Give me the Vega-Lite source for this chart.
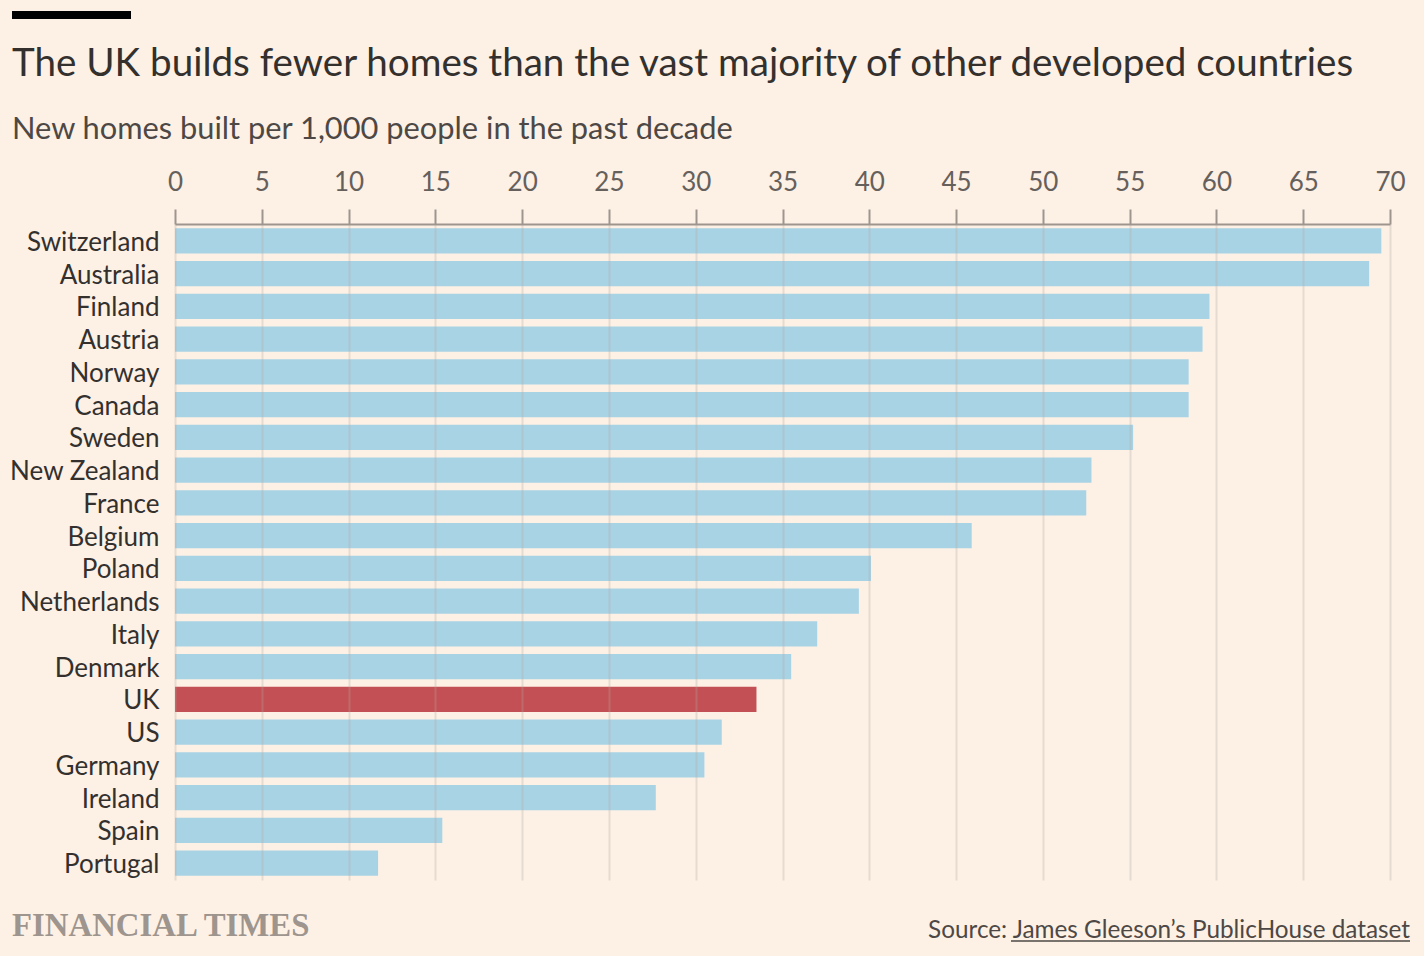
{
  "$schema": "https://vega.github.io/schema/vega-lite/v6.json",
  "width": 1215,
  "height": 656,
  "autosize": {"type": "none"},
  "padding": {"left": 175, "top": 224, "right": 34, "bottom": 76},
  "background": "#fdf1e6",
  "title": {
    "text": "The UK builds fewer homes than the vast majority of other developed countries",
    "subtitle": "New homes built per 1,000 people in the past decade",
    "anchor": "start",
    "frame": "group",
    "dx": -163,
    "offset": -135,
    "font": "Lato",
    "fontSize": 38.6,
    "fontWeight": "normal",
    "color": "#33302e",
    "subtitleFont": "Lato",
    "subtitleFontSize": 30.8,
    "subtitleColor": "#4d4845",
    "subtitlePadding": 31
  },
  "data": {
    "values": [
      {"country": "Switzerland", "homes": 69.5},
      {"country": "Australia", "homes": 68.8},
      {"country": "Finland", "homes": 59.6},
      {"country": "Austria", "homes": 59.2},
      {"country": "Norway", "homes": 58.4},
      {"country": "Canada", "homes": 58.4},
      {"country": "Sweden", "homes": 55.2},
      {"country": "New Zealand", "homes": 52.8},
      {"country": "France", "homes": 52.5},
      {"country": "Belgium", "homes": 45.9},
      {"country": "Poland", "homes": 40.1},
      {"country": "Netherlands", "homes": 39.4},
      {"country": "Italy", "homes": 37.0},
      {"country": "Denmark", "homes": 35.5},
      {"country": "UK", "homes": 33.5},
      {"country": "US", "homes": 31.5},
      {"country": "Germany", "homes": 30.5},
      {"country": "Ireland", "homes": 27.7},
      {"country": "Spain", "homes": 15.4},
      {"country": "Portugal", "homes": 11.7}
    ]
  },
  "layer": [
    {
      "mark": {"type": "bar"},
      "encoding": {
        "y": {
          "field": "country",
          "type": "nominal",
          "sort": null,
          "scale": {"paddingInner": 0.23, "paddingOuter": 0.13},
          "axis": {
            "title": null,
            "ticks": false,
            "domain": false,
            "labelFont": "Lato",
            "labelFontSize": 26,
            "labelColor": "#33302e",
            "labelPadding": 16,
            "labelOffset": 2
          }
        },
        "x": {
          "field": "homes",
          "type": "quantitative",
          "scale": {"domain": [0, 70], "nice": false},
          "axis": {
            "orient": "top",
            "title": null,
            "values": [0, 5, 10, 15, 20, 25, 30, 35, 40, 45, 50, 55, 60, 65, 70],
            "labelFont": "Lato",
            "labelFontSize": 26,
            "labelColor": "#66605c",
            "labelPadding": 14,
            "labelFlush": false,
            "labelOverlap": false,
            "tickSize": 15,
            "tickColor": "#9e958e",
            "tickWidth": 2,
            "domainColor": "#9e958e",
            "domainWidth": 2,
            "gridColor": "#b3a89e",
            "gridOpacity": 0.3,
            "gridWidth": 2,
            "zindex": 1
          }
        },
        "color": {
          "condition": {"test": "datum.country === 'UK'", "value": "#c35054"},
          "value": "#a8d3e4"
        }
      }
    },
    {
      "data": {"values": [{}]},
      "mark": {"type": "rule", "stroke": "#000000", "strokeWidth": 8},
      "encoding": {"x": {"value": -163}, "x2": {"value": -44}, "y": {"value": -209}}
    },
    {
      "data": {"values": [{}]},
      "mark": {"type": "text", "text": "FINANCIAL TIMES", "font": "Liberation Serif", "fontSize": 32.8, "fontWeight": "bold", "color": "#9e958e", "align": "left", "baseline": "alphabetic"},
      "encoding": {"x": {"value": -163}, "y": {"value": 712}}
    },
    {
      "data": {"values": [{}]},
      "mark": {"type": "text", "text": "Source: James Gleeson’s PublicHouse dataset", "font": "Lato", "fontSize": 24.3, "color": "#4d4845", "align": "right", "baseline": "alphabetic"},
      "encoding": {"x": {"value": 1235}, "y": {"value": 714}}
    },
    {
      "data": {"values": [{}]},
      "mark": {"type": "rule", "stroke": "#4d4845", "strokeWidth": 1.5},
      "encoding": {"x": {"value": 836}, "x2": {"value": 1235}, "y": {"value": 717}}
    }
  ],
  "config": {"view": {"stroke": null}}
}
